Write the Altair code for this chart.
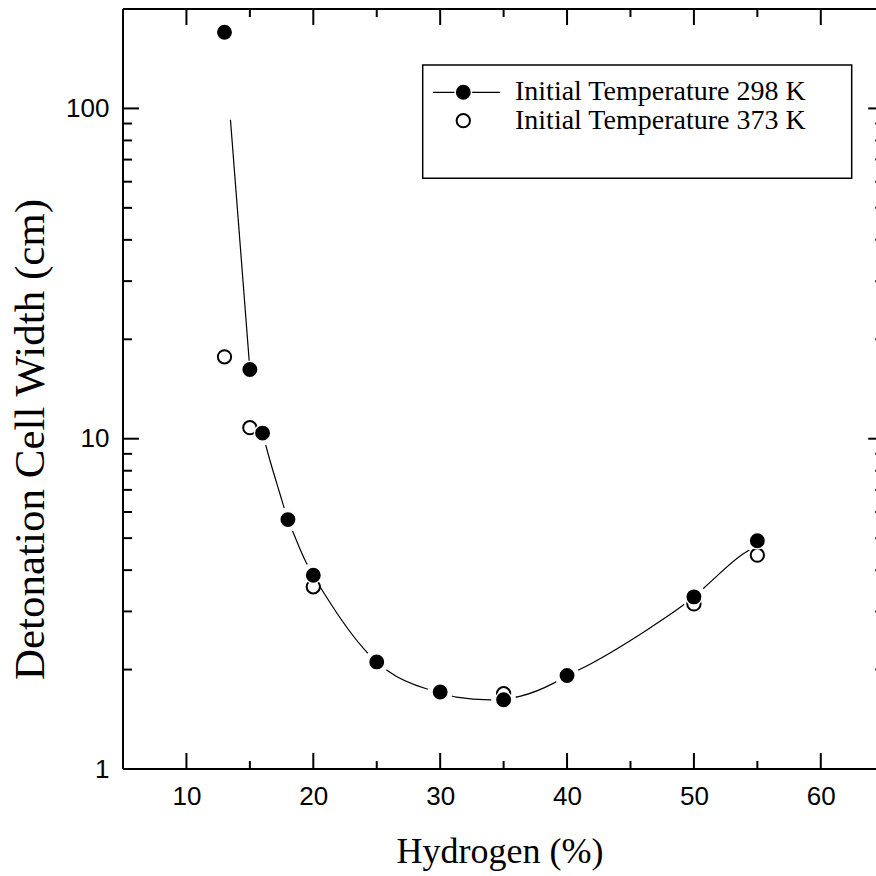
import altair as alt
import pandas as pd

# ---------------- data ----------------
h2_298 = [13, 15, 16, 18, 20, 25, 30, 35, 40, 50, 55]
cell_298 = [170, 16.2, 10.4, 5.69, 3.86, 2.11, 1.71, 1.62, 1.92, 3.32, 4.91]

h2_373 = [13, 15, 20, 35, 50, 55]
cell_373 = [17.7, 10.8, 3.56, 1.69, 3.16, 4.44]

curve_x = [13.47, 15.0,
           16.0, 16.43, 17.35, 18.0, 18.48, 19.32, 20.0, 20.9, 24.31, 25.0, 25.89,
           28.91, 30.0, 31.28, 33.9, 35.0, 36.27, 38.95, 40.0, 40.86, 46.51, 49.14,
           50.0, 50.85, 53.92, 55.0]
curve_y = [92.4, 16.2,
           10.4, 9.02, 6.85, 5.69, 5.13, 4.31, 3.86, 3.38, 2.24, 2.11, 1.98,
           1.75, 1.71, 1.65, 1.62, 1.63, 1.66, 1.82, 1.92, 1.99, 2.67, 3.13,
           3.32, 3.55, 4.49, 4.75]
curve_seg = [1, 1] + [2] * 26

x_major = [10, 20, 30, 40, 50, 60]
x_minor = [15, 25, 35, 45, 55]
y_major = [1, 10, 100]
y_minor = [2, 3, 4, 5, 6, 7, 8, 9, 20, 30, 40, 50, 60, 70, 80, 90, 200]

legend_labels = ["Initial Temperature 298 K", "Initial Temperature 373 K"]
x_title = "Hydrogen (%)"
y_title = "Detonation Cell Width (cm)"

# ---------------- layout ----------------
W, H = 753, 760
PAD_L, PAD_T = 123, 9
X_MIN = 5
PX_PER_UNIT = 12.687
X_MAX = X_MIN + W / PX_PER_UNIT
X_RIGHT_AXIS = 65
xr = (X_RIGHT_AXIS - X_MIN) * PX_PER_UNIT  # pixel of the (cropped) right axis

SERIF = "Liberation Serif"
SANS = "Liberation Sans"

xs = alt.Scale(domain=[X_MIN, X_MAX], nice=False, zero=False)
ys = alt.Scale(type="log", domain=[1, 200], nice=False)

df298 = pd.DataFrame({"x": h2_298, "y": cell_298})
df373 = pd.DataFrame({"x": h2_373, "y": cell_373})
dfc = pd.DataFrame({"x": curve_x, "y": curve_y, "seg": curve_seg})

x_axis = alt.Axis(values=x_major, title=x_title, titleFontSize=36,
                  titleBaseline="alphabetic", titleY=93, titleX=W / 2,
                  titleAlign="center")
y_axis = alt.Axis(values=y_major, format="d", title=y_title, titleFontSize=43,
                  titleAngle=270, titleBaseline="alphabetic", titleAlign="center",
                  titleX=-80, titleY=430)

curve = alt.Chart(dfc).mark_line(color="black", strokeWidth=1.2, interpolate="monotone").encode(
    x=alt.X("x:Q", scale=xs, axis=x_axis),
    y=alt.Y("y:Q", scale=ys, axis=y_axis),
    detail="seg:N",
)

X = alt.X("x:Q", scale=xs)
Y = alt.Y("y:Q", scale=ys)

halo = alt.Chart(df298).transform_filter(alt.datum.x >= 16).mark_point(
    shape="circle", filled=True, color="white", size=615, opacity=1
).encode(x=X, y=Y)

open_pts = alt.Chart(df373).mark_point(
    shape="circle", filled=False, fill="white", fillOpacity=1, stroke="black",
    strokeWidth=2, size=177, opacity=1
).encode(x=X, y=Y)

filled_pts = alt.Chart(df298).mark_point(
    shape="circle", filled=True, fill="black", stroke="white", strokeWidth=1.5,
    size=269, opacity=1
).encode(x=X, y=Y)

# ---------------- frame and inward ticks ----------------
frame_df = pd.DataFrame({"k": [0]})
left_line = alt.Chart(frame_df).mark_rule(color="black", strokeWidth=2).encode(
    x=alt.value(0), y=alt.value(0), y2=alt.value(H))
bottom_line = alt.Chart(frame_df).mark_rule(color="black", strokeWidth=2).encode(
    x=alt.value(0), x2=alt.value(W), y=alt.value(H))
top_line = alt.Chart(frame_df).mark_rule(color="black", strokeWidth=2).encode(
    x=alt.value(0), x2=alt.value(W), y=alt.value(0))


def xticks(vals, y0, y1):
    return alt.Chart(pd.DataFrame({"x": vals})).mark_rule(color="black", strokeWidth=2).encode(
        x=X, y=alt.value(y0), y2=alt.value(y1))


def yticks(vals, x0, x1):
    return alt.Chart(pd.DataFrame({"y": vals})).mark_rule(
        color="black", strokeWidth=2, clip=True).encode(
        y=Y, x=alt.value(x0), x2=alt.value(x1))


ticks = [
    xticks(x_major, H, H - 16), xticks(x_minor, H, H - 8),
    xticks(x_major, 0, 16), xticks(x_minor, 0, 8),
    yticks(y_major, 0, 16), yticks(y_minor, 0, 9),
    yticks(y_major, xr, xr - 16), yticks(y_minor, xr, xr - 9),
]

# ---------------- legend ----------------
LX0, LX1 = 422.7 - PAD_L, 851.7 - PAD_L
LY0, LY1 = 65 - PAD_T, 178.3 - PAD_T
R1, R2 = 92.3 - PAD_T, 120.7 - PAD_T
SYM_X = 463.3 - PAD_L
TXT_X = 515 - PAD_L

leg_box = alt.Chart(frame_df).mark_rect(fill="white", stroke="black", strokeWidth=1.5).encode(
    x=alt.value(LX0), x2=alt.value(LX1), y=alt.value(LY0), y2=alt.value(LY1))
leg_line = alt.Chart(frame_df).mark_rule(color="black", strokeWidth=1.2).encode(
    x=alt.value(433 - PAD_L), x2=alt.value(500 - PAD_L), y=alt.value(R1))
leg_filled = alt.Chart(frame_df).mark_point(
    shape="circle", filled=True, fill="black", stroke="white", strokeWidth=1.5,
    size=269, opacity=1).encode(x=alt.value(SYM_X), y=alt.value(R1))
leg_open = alt.Chart(frame_df).mark_point(
    shape="circle", filled=False, fill="white", fillOpacity=1, stroke="black",
    strokeWidth=2, size=177, opacity=1).encode(x=alt.value(SYM_X), y=alt.value(R2))
leg_text1 = alt.Chart(frame_df).mark_text(
    align="left", baseline="middle", font=SERIF, fontSize=28, color="black",
    text=legend_labels[0]).encode(x=alt.value(TXT_X), y=alt.value(R1))
leg_text2 = alt.Chart(frame_df).mark_text(
    align="left", baseline="middle", font=SERIF, fontSize=28, color="black",
    text=legend_labels[1]).encode(x=alt.value(TXT_X), y=alt.value(R2))

chart = alt.layer(
    curve, halo, open_pts, filled_pts,
    left_line, bottom_line, top_line, *ticks,
    leg_box, leg_line, leg_filled, leg_open, leg_text1, leg_text2,
).properties(
    width=W, height=H,
    autosize=alt.AutoSizeParams(type="none"),
    padding={"left": PAD_L, "top": PAD_T, "right": 0, "bottom": 876 - PAD_T - H},
    background="white",
).configure_view(stroke=None).configure_axis(
    ticks=False, domain=False, grid=False,
    labelFont=SANS, labelFontSize=26, labelColor="black", labelPadding=14,
    titleFont=SERIF, titleFontWeight="normal", titleColor="black",
)

chart.save("out.html", embed_options={"renderer": "svg", "actions": False})
